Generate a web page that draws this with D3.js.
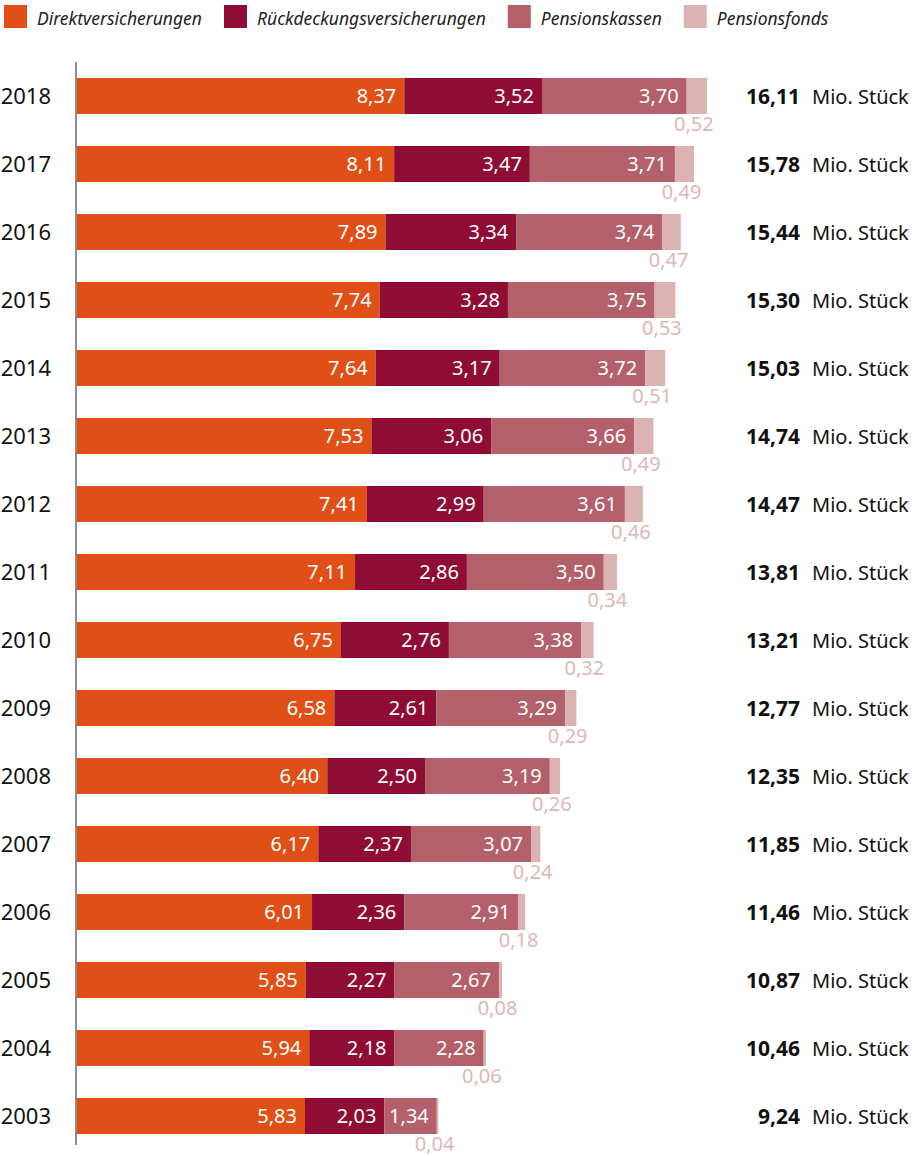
<!DOCTYPE html>
<html>
<head>
<meta charset="utf-8">
<style>
body { margin: 0; background: #fff; }
text { font-family: "Noto Sans", sans-serif; }
</style>
</head>
<body>
<script src="https://d3js.org/d3.v7.min.js"></script>
<script>

// data (Mio. Stück)
var years = ["2018","2017","2016","2015","2014","2013","2012","2011","2010","2009","2008","2007","2006","2005","2004","2003"];
var direkt  = [8.37, 8.11, 7.89, 7.74, 7.64, 7.53, 7.41, 7.11, 6.75, 6.58, 6.40, 6.17, 6.01, 5.85, 5.94, 5.83];
var rueck   = [3.52, 3.47, 3.34, 3.28, 3.17, 3.06, 2.99, 2.86, 2.76, 2.61, 2.50, 2.37, 2.36, 2.27, 2.18, 2.03];
var kassen  = [3.70, 3.71, 3.74, 3.75, 3.72, 3.66, 3.61, 3.50, 3.38, 3.29, 3.19, 3.07, 2.91, 2.67, 2.28, 1.34];
var fonds   = [0.52, 0.49, 0.47, 0.53, 0.51, 0.49, 0.46, 0.34, 0.32, 0.29, 0.26, 0.24, 0.18, 0.08, 0.06, 0.04];
var totals  = [16.11, 15.78, 15.44, 15.30, 15.03, 14.74, 14.47, 13.81, 13.21, 12.77, 12.35, 11.85, 11.46, 10.87, 10.46, 9.24];
var seriesNames = ["Direktversicherungen", "Rückdeckungsversicherungen", "Pensionskassen", "Pensionsfonds"];
var colors = ["#e05016", "#8f0d35", "#b4606a", "#dcb3b3"];

var W = 920, H = 1156;
var fmt = function(v) { return v.toFixed(2).replace(".", ","); };

var rows = years.map(function(y, i) {
  return { year: y, Direktversicherungen: direkt[i], "Rückdeckungsversicherungen": rueck[i],
           Pensionskassen: kassen[i], Pensionsfonds: fonds[i], total: totals[i] };
});

var svg = d3.select("body").append("svg")
    .attr("width", W)
    .attr("height", H);

// scales
var x = d3.scaleLinear().domain([0, d3.max(totals)]).range([77, 707]);
var y = d3.scalePoint().domain(years).range([96, 1116]);
var barH = 36;

var stack = d3.stack().keys(seriesNames)(rows);

// legend
var legend = svg.append("g");
var lx = 4;
seriesNames.forEach(function(name, i) {
  legend.append("rect")
      .attr("x", lx).attr("y", 5)
      .attr("width", 23).attr("height", 23)
      .attr("fill", colors[i]);
  var t = legend.append("text")
      .attr("x", lx + 33).attr("y", 25)
      .attr("font-size", 17.5)
      .attr("font-style", "italic")
      .attr("fill", "#222")
      .text(name);
  lx += 33 + t.node().getComputedTextLength() + 22;
});

// bars
stack.forEach(function(layer, si) {
  var g = svg.append("g");
  g.selectAll("rect")
    .data(layer)
    .enter().append("rect")
      .attr("x", function(d) { return x(d[0]); })
      .attr("y", function(d) { return y(d.data.year) - barH / 2; })
      .attr("width", function(d) { return x(d[1]) - x(d[0]); })
      .attr("height", barH)
      .attr("fill", colors[si]);

  if (si < 3) {
    // value inside the segment
    g.selectAll("text")
      .data(layer)
      .enter().append("text")
        .attr("x", function(d) { return x(d[1]) - 8; })
        .attr("y", function(d) { return y(d.data.year); })
        .attr("dy", "0.36em")
        .attr("text-anchor", "end")
        .attr("font-size", 20)
        .attr("fill", "#fff")
        .text(function(d) { return fmt(d.data[seriesNames[si]]); });
  } else {
    // Pensionsfonds value below the bar
    g.selectAll("text")
      .data(layer)
      .enter().append("text")
        .attr("x", function(d) { return (x(d[0]) + x(d[1])) / 2 - 3; })
        .attr("y", function(d) { return y(d.data.year) + barH / 2 + 17; })
        .attr("text-anchor", "middle")
        .attr("font-size", 20)
        .attr("fill", "#dfb6b6")
        .text(function(d) { return fmt(d.data.Pensionsfonds); });
  }
});

// axis line
svg.append("line")
    .attr("x1", 76).attr("x2", 76)
    .attr("y1", 62).attr("y2", 1145)
    .attr("stroke", "#666")
    .attr("stroke-width", 1.5);

// year labels
svg.append("g").selectAll("text")
  .data(rows)
  .enter().append("text")
    .attr("x", 51)
    .attr("y", function(d) { return y(d.year); })
    .attr("dy", "0.38em")
    .attr("text-anchor", "end")
    .attr("font-size", 22)
    .attr("fill", "#111")
    .text(function(d) { return d.year; });

// totals
var tot = svg.append("g");
tot.selectAll("text.sum")
  .data(rows)
  .enter().append("text")
    .attr("class", "sum")
    .attr("x", 800)
    .attr("y", function(d) { return y(d.year); })
    .attr("dy", "0.38em")
    .attr("text-anchor", "end")
    .attr("font-size", 21)
    .attr("font-weight", "bold")
    .attr("fill", "#111")
    .text(function(d) { return fmt(d.total); });
tot.selectAll("text.unit")
  .data(rows)
  .enter().append("text")
    .attr("class", "unit")
    .attr("x", 812)
    .attr("y", function(d) { return y(d.year); })
    .attr("dy", "0.38em")
    .attr("font-size", 20)
    .attr("fill", "#111")
    .text("Mio. Stück");

</script>
</body>
</html>
